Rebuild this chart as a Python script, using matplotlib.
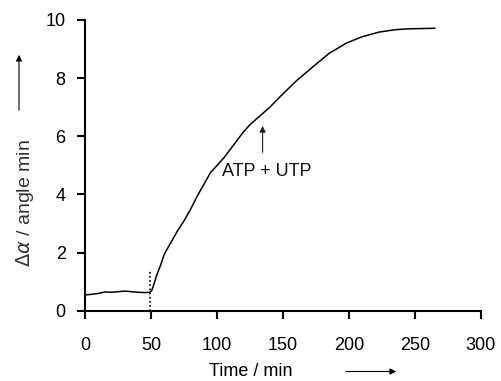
import matplotlib
matplotlib.use("Agg")
import matplotlib.pyplot as plt
from matplotlib.patches import FancyArrowPatch

plt.rcParams['font.family'] = ['Liberation Sans', 'DejaVu Sans']

time_min = [0, 5, 10, 15, 20, 25, 30, 35, 40, 45, 49, 50.5, 52, 54, 57, 60, 65, 70, 75, 80,
            85, 90, 95, 100, 105, 110, 115, 120, 125, 130, 135, 140, 148, 160, 173,
            185, 198, 210, 223, 235, 245, 255, 265]
delta_alpha = [0.55, 0.57, 0.6, 0.65, 0.64, 0.66, 0.68, 0.66, 0.64, 0.63, 0.64, 0.7, 0.9,
               1.2, 1.55, 1.95, 2.35, 2.75, 3.1, 3.5, 3.95, 4.35, 4.75, 5.0, 5.25, 5.55,
               5.85, 6.15, 6.4, 6.6, 6.8, 7.0, 7.37, 7.9, 8.4, 8.85, 9.2, 9.42, 9.58,
               9.66, 9.69, 9.7, 9.71]
x_ticks = [0, 50, 100, 150, 200, 250, 300]
y_ticks = [0, 2, 4, 6, 8, 10]
marker_time = 49.5
annot_time = 134.5

fig = plt.figure(figsize=(5.01, 3.81), dpi=100)
ax = fig.add_axes([0.170, 0.184, 0.790, 0.764])

ax.plot(time_min, delta_alpha, color='black', lw=1.1)
ax.plot([marker_time, marker_time], [0, 1.4], color='black', lw=1.2, linestyle=(0, (1, 1.5)))

ax.annotate('', xy=(annot_time, 6.45), xytext=(annot_time, 5.35),
            arrowprops=dict(arrowstyle='-|>', color='#222222', lw=0.8, mutation_scale=9))
ax.text(138, 4.78, 'ATP + UTP', ha='center', va='center', fontsize=13, color='#111111')

ax.set_xlim(0, 300)
ax.set_ylim(0, 10)
ax.set_xticks(x_ticks)
ax.set_yticks(y_ticks)
for s in ['top', 'right']:
    ax.spines[s].set_visible(False)
for s in ['left', 'bottom']:
    ax.spines[s].set_linewidth(1.5)
ax.tick_params(direction='out', length=6, width=1.5, labelsize=13, colors='black')
ax.tick_params(axis='x', pad=13)
ax.tick_params(axis='y', pad=8)

fig.text(0.50, 1 - 371/381, 'Time / min', ha='center', va='center', fontsize=13)
fig.text(25/501, 1 - 203/381, r'$\mathit{\Delta\alpha}$ / angle min', rotation=90,
         ha='center', va='center', fontsize=14, color='#333333')
fig.add_artist(FancyArrowPatch((343/501, 1 - 371.5/381), (399/501, 1 - 371.5/381),
               transform=fig.transFigure, arrowstyle='-|>', color='black', lw=0.8, mutation_scale=9))
fig.add_artist(FancyArrowPatch((19/501, 1 - 113/381), (19/501, 1 - 52/381),
               transform=fig.transFigure, arrowstyle='-|>', color='black', lw=0.8, mutation_scale=9))

fig.savefig('out.png', dpi=100)
